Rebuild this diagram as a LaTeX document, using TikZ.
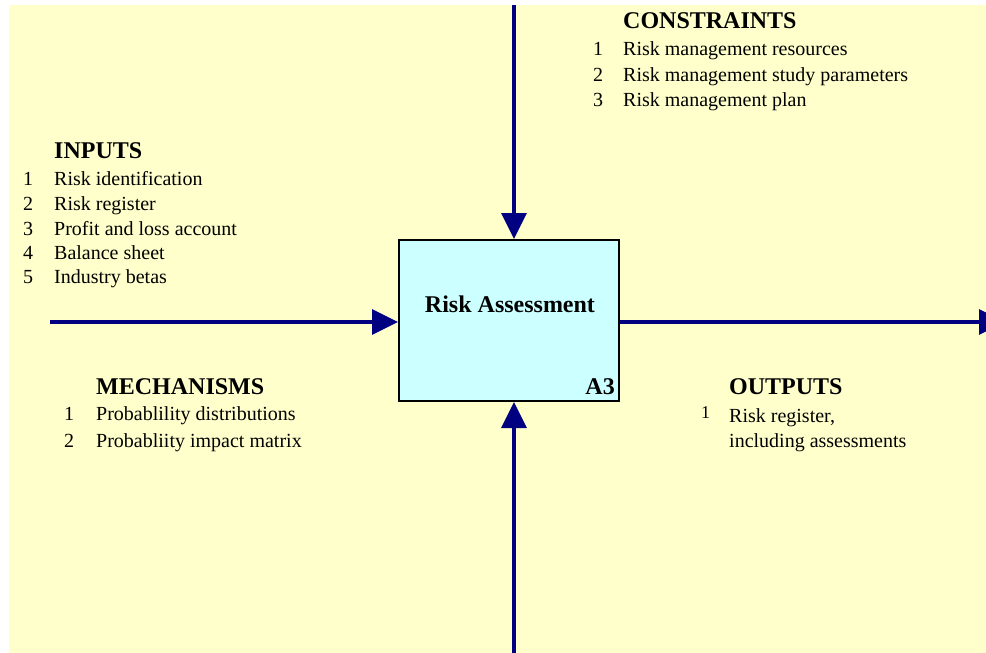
\documentclass[tikz,border=0pt]{standalone}
\usepackage{fontspec}
\setmainfont{Liberation Serif}
\usetikzlibrary{arrows.meta, positioning}

\definecolor{sheet}{HTML}{FFFFCC}
\definecolor{boxfill}{HTML}{CCFFFF}
\definecolor{flow}{HTML}{000080}

\tikzstyle{heading} = [anchor=base west, inner sep=0pt, font=\fontsize{24}{28}\selectfont\bfseries]
\tikzstyle{entry} = [anchor=base west, inner sep=0pt, font=\fontsize{20}{24}\selectfont]
\tikzstyle{activity} = [rectangle, draw=black, line width=2pt, fill=boxfill, minimum width=220pt, minimum height=161pt, font=\fontsize{24}{28}\selectfont\bfseries]
\tikzstyle{arrow} = [draw=flow, line width=3.5pt, -{Triangle[length=26pt, width=25pt]}]

\begin{document}
\begin{tikzpicture}[x=1pt, y=-1pt]

\useasboundingbox (0,0) rectangle (986,653);
\fill[sheet] (9,5) rectangle (986,653);

% Activity box
\node (task) [activity] at (509,320.5) {};
\node (title) [anchor=base, inner sep=0pt, font=\fontsize{24}{28}\selectfont\bfseries] at (510,312) {Risk Assessment};
\node (code) [anchor=base east, inner sep=0pt, font=\fontsize{24}{28}\selectfont\bfseries] at (615,394) {A3};

% Free ends of the four flows
\coordinate (ctrl) at (514,5);
\coordinate (mech) at (514,653);
\coordinate (in) at (50,322);
\coordinate (out) at (1005,322);

% Arrows
\draw [arrow] (ctrl) -- (ctrl |- task.north);
\draw [arrow] (mech) -- (mech |- task.south);
\draw [arrow] (in) -- (in -| task.west);
\draw [arrow] (task.east |- out) -- (out);

% Constraints
\node (ctrl-head) [heading] at (623,28) {CONSTRAINTS};
\foreach \n/\y/\t in {1/55/Risk management resources, 2/81/Risk management study parameters, 3/106/Risk management plan} {
  \node (ctrl-num-\n) [entry] at (593,\y) {\n};
  \node (ctrl-\n) [entry] at (623,\y) {\t};
}

% Inputs
\node (in-head) [heading] at (54,158) {INPUTS};
\foreach \n/\y/\t in {1/185/Risk identification, 2/210/Risk register, 3/235/Profit and loss account, 4/259/Balance sheet, 5/283/Industry betas} {
  \node (in-num-\n) [entry] at (23,\y) {\n};
  \node (in-\n) [entry] at (54,\y) {\t};
}

% Mechanisms
\node (mech-head) [heading] at (96,394) {MECHANISMS};
\foreach \n/\y/\t in {1/420/Probablility distributions, 2/447/Probabliity impact matrix} {
  \node (mech-num-\n) [entry] at (64,\y) {\n};
  \node (mech-\n) [entry] at (96,\y) {\t};
}

% Outputs
\node (out-head) [heading] at (729,394) {OUTPUTS};
\node (out-num-1) [entry, font=\fontsize{18}{22}\selectfont] at (701,418) {1};
\node (out-1) [entry] at (729,422) {Risk register,};
\node (out-1b) [entry] at (729,447) {including assessments};

\end{tikzpicture}
\end{document}
